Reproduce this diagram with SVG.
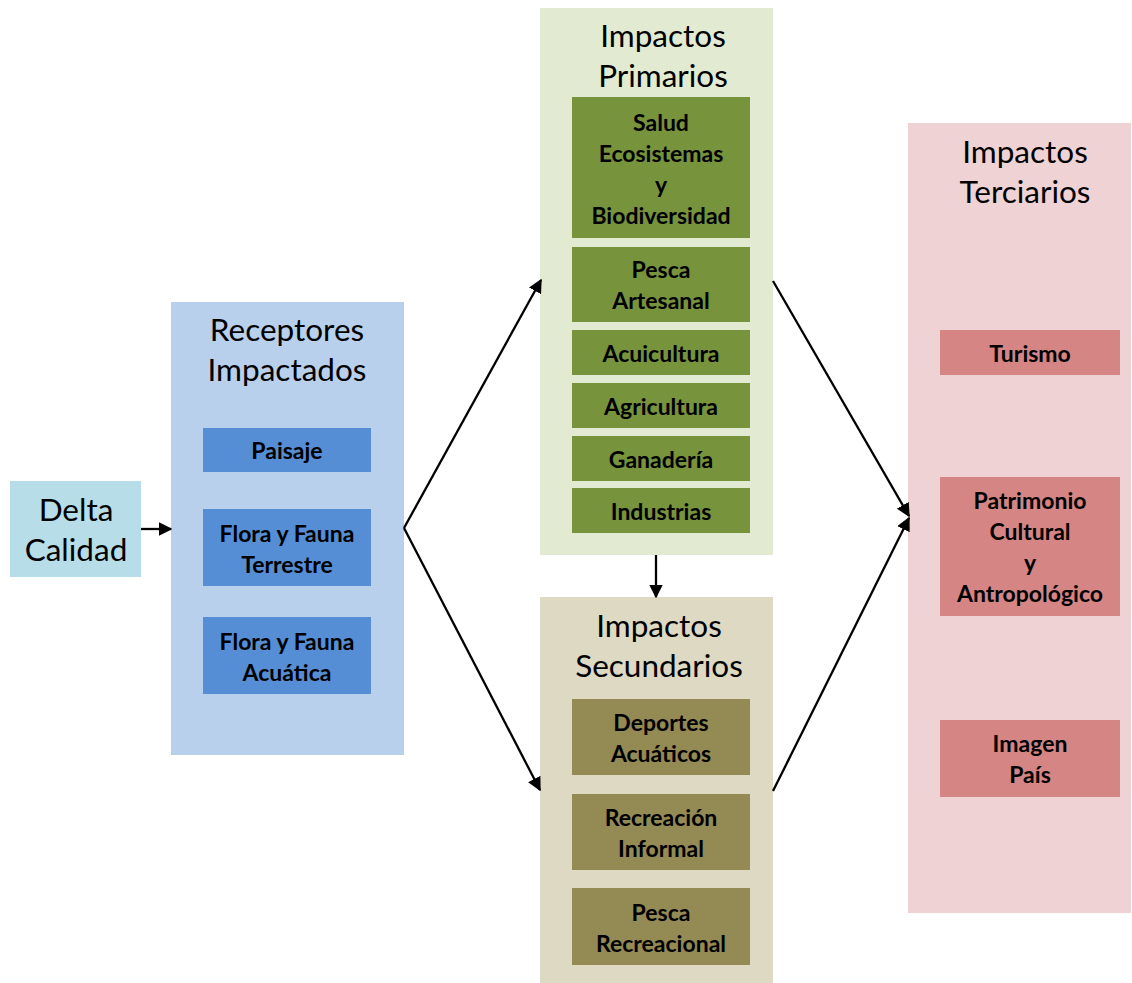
<svg xmlns="http://www.w3.org/2000/svg" width="1132" height="983" viewBox="0 0 1132 983">
  <defs>
    <marker id="arrow" viewBox="0 0 10 10" refX="9" refY="5" markerWidth="6" markerHeight="6" orient="auto" markerUnits="strokeWidth">
      <path d="M0,0 L10,5 L0,10 z" fill="#000"/>
    </marker>
    <style>
      .title { font-family: Lato, "Open Sans", "Liberation Sans", sans-serif; font-size: 31.5px; fill: #000; text-anchor: middle; }
      .item { font-family: Lato, "Open Sans", "Liberation Sans", sans-serif; font-size: 23px; font-weight: bold; fill: #000; text-anchor: middle; }
      .conn { stroke: #000; stroke-width: 2.3; fill: none; marker-end: url(#arrow); }
    </style>
  </defs>
  <rect width="1132" height="983" fill="#fff"/>

  <g id="delta">
    <rect x="10" y="481" width="131" height="96" fill="#b7dde8"/>
    <text class="title" x="76" y="521">Delta</text>
    <text class="title" x="76" y="561">Calidad</text>
  </g>

  <g id="receptores">
    <rect x="171" y="302" width="233" height="453" fill="#b9d0ec"/>
    <text class="title" x="287" y="341">Receptores</text>
    <text class="title" x="287" y="381">Impactados</text>
    <rect x="203" y="428" width="168" height="44" fill="#558ed5"/>
    <text class="item" x="287" y="459">Paisaje</text>
    <rect x="203" y="509" width="168" height="77" fill="#558ed5"/>
    <text class="item" x="287" y="542">Flora y Fauna</text>
    <text class="item" x="287" y="573">Terrestre</text>
    <rect x="203" y="617" width="168" height="77" fill="#558ed5"/>
    <text class="item" x="287" y="650">Flora y Fauna</text>
    <text class="item" x="287" y="681">Acuática</text>
  </g>

  <g id="primarios">
    <rect x="540" y="8" width="233" height="547" fill="#e2ebd2"/>
    <text class="title" x="663" y="47">Impactos</text>
    <text class="title" x="663" y="87">Primarios</text>
    <rect x="572" y="97" width="178" height="141" fill="#77933c"/>
    <text class="item" x="661" y="131">Salud</text>
    <text class="item" x="661" y="162">Ecosistemas</text>
    <text class="item" x="661" y="193">y</text>
    <text class="item" x="661" y="224">Biodiversidad</text>
    <rect x="572" y="247" width="178" height="75" fill="#77933c"/>
    <text class="item" x="661" y="278">Pesca</text>
    <text class="item" x="661" y="309">Artesanal</text>
    <rect x="572" y="330" width="178" height="45" fill="#77933c"/>
    <text class="item" x="661" y="362">Acuicultura</text>
    <rect x="572" y="383" width="178" height="45" fill="#77933c"/>
    <text class="item" x="661" y="415">Agricultura</text>
    <rect x="572" y="436" width="178" height="45" fill="#77933c"/>
    <text class="item" x="661" y="468">Ganadería</text>
    <rect x="572" y="488" width="178" height="45" fill="#77933c"/>
    <text class="item" x="661" y="520">Industrias</text>
  </g>

  <g id="secundarios">
    <rect x="540" y="597" width="233" height="386" fill="#ddd9c3"/>
    <text class="title" x="659" y="637">Impactos</text>
    <text class="title" x="659" y="677">Secundarios</text>
    <rect x="572" y="699" width="178" height="76" fill="#948a54"/>
    <text class="item" x="661" y="731">Deportes</text>
    <text class="item" x="661" y="762">Acuáticos</text>
    <rect x="572" y="794" width="178" height="76" fill="#948a54"/>
    <text class="item" x="661" y="826">Recreación</text>
    <text class="item" x="661" y="857">Informal</text>
    <rect x="572" y="888" width="178" height="77" fill="#948a54"/>
    <text class="item" x="661" y="921">Pesca</text>
    <text class="item" x="661" y="952">Recreacional</text>
  </g>

  <g id="terciarios">
    <rect x="908" y="123" width="223" height="790" fill="#efd3d4"/>
    <text class="title" x="1025" y="163">Impactos</text>
    <text class="title" x="1025" y="203">Terciarios</text>
    <rect x="940" y="330" width="180" height="45" fill="#d58584"/>
    <text class="item" x="1030" y="362">Turismo</text>
    <rect x="940" y="477" width="180" height="139" fill="#d58584"/>
    <text class="item" x="1030" y="509">Patrimonio</text>
    <text class="item" x="1030" y="540">Cultural</text>
    <text class="item" x="1030" y="571">y</text>
    <text class="item" x="1030" y="602">Antropológico</text>
    <rect x="940" y="720" width="180" height="77" fill="#d58584"/>
    <text class="item" x="1030" y="752">Imagen</text>
    <text class="item" x="1030" y="783">País</text>
  </g>

  <g id="connectors">
    <line class="conn" x1="141" y1="529" x2="171" y2="529"/>
    <line class="conn" x1="404" y1="528" x2="541" y2="280"/>
    <line class="conn" x1="404" y1="528" x2="540" y2="790"/>
    <line class="conn" x1="773" y1="281" x2="909" y2="516"/>
    <line class="conn" x1="773" y1="791" x2="909" y2="518"/>
    <line class="conn" x1="656" y1="555" x2="656" y2="597"/>
  </g>
</svg>
